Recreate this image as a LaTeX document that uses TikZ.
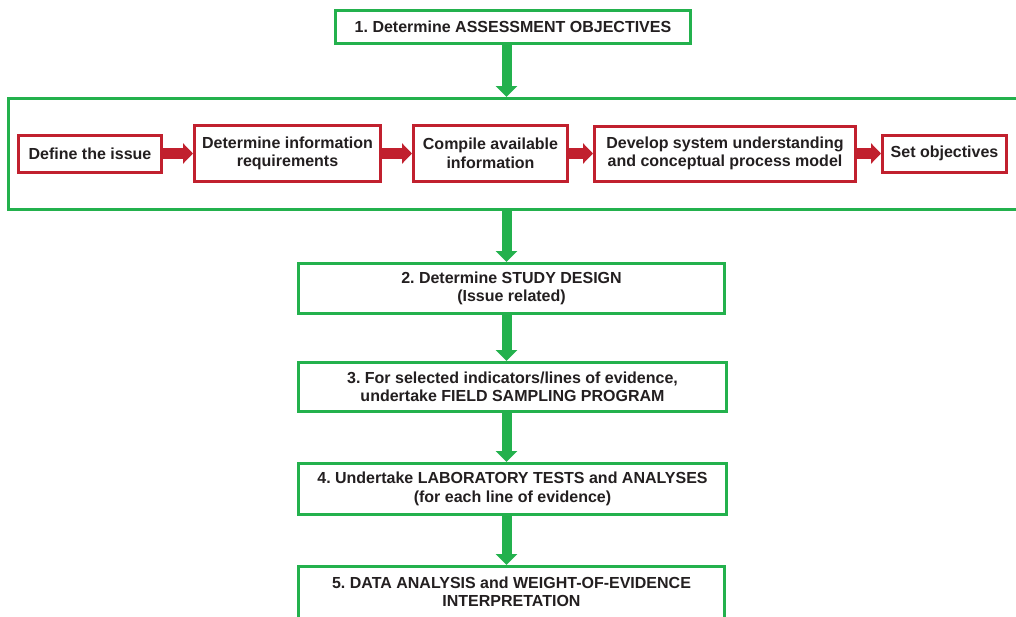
\documentclass[tikz,border=0pt]{standalone}
\usepackage{fontspec}
\setmainfont{Liberation Sans}
\usetikzlibrary{arrows.meta}
\definecolor{stepgreen}{RGB}{35,177,77}
\definecolor{taskred}{RGB}{193,32,46}
\definecolor{ink}{RGB}{35,31,32}
\frenchspacing
\begin{document}
\begin{tikzpicture}[x=1pt,y=-1pt,
  every node/.style={font=\fontsize{16}{18.5}\selectfont\bfseries, text=ink, align=center},
  gbox/.style={draw=stepgreen, line width=3pt, fill=white, inner sep=0pt},
  rbox/.style={draw=taskred, line width=3pt, fill=white, inner sep=0pt},
  garrow/.style={draw=stepgreen, fill=stepgreen, line width=10pt, -{Triangle[width=21pt,length=11pt]}},
  rarrow/.style={draw=taskred, fill=taskred, line width=11pt, -{Triangle[width=20pt,length=10pt]}}]
\useasboundingbox (0,0) rectangle (1016,616);
\clip (0,0) rectangle (1016,616);

% main process steps
\node[gbox, minimum width=355pt, minimum height=33pt] (b1) at (513,27) {1. Determine ASSESSMENT OBJECTIVES};
\node[gbox, fill=none, minimum width=1011.5pt, minimum height=111pt] (frame) at (514.25,154) {};
\node[gbox, minimum width=426pt, minimum height=50pt] (b2) at (511.5,288.5) {2. Determine STUDY DESIGN\\(Issue related)};
\node[gbox, minimum width=428pt, minimum height=49pt] (b3) at (512.5,387) {3. For selected indicators/lines of evidence,\\undertake FIELD SAMPLING PROGRAM};
\node[gbox, minimum width=428pt, minimum height=51pt] (b4) at (512.5,489) {4. Undertake LABORATORY TESTS and ANALYSES\\(for each line of evidence)};
% last step runs on past the lower edge
\node[gbox, anchor=north, minimum width=426pt, inner ysep=10pt, text depth=80pt] (b5) at (511.5,565) {5. DATA ANALYSIS and WEIGHT-OF-EVIDENCE\\INTERPRETATION};

% sub-steps of objective setting
\node[rbox, minimum width=143pt, minimum height=37pt] (r1) at (90,153.5) {Define the issue};
\node[rbox, minimum width=186pt, minimum height=56pt] (r2) at (287.5,153.5) {Determine information\\requirements};
\node[rbox, minimum width=154pt, minimum height=56pt] (r3) at (490.5,153.5) {Compile available\\information};
\node[rbox, minimum width=261pt, minimum height=55pt] (r4) at (725,153.5) {Develop system understanding\\and conceptual process model};
\node[rbox, minimum width=124pt, minimum height=37pt] (r5) at (944.5,153.5) {Set objectives};

% connectors
\coordinate (spine) at (506.5,0);
\draw[garrow] (b1.south -| spine) -- (frame.north -| spine);
\draw[garrow] (frame.south -| spine) -- (b2.north -| spine);
\draw[garrow] (b2.south -| spine) -- (b3.north -| spine);
\draw[garrow] (b3.south -| spine) -- (b4.north -| spine);
\draw[garrow] (b4.south -| spine) -- (b5.north -| spine);

\draw[rarrow] (r1.east) -- (r2.west);
\draw[rarrow] (r2.east) -- (r3.west);
\draw[rarrow] (r3.east) -- (r4.west);
\draw[rarrow] (r4.east) -- (r5.west);
\end{tikzpicture}
\end{document}
